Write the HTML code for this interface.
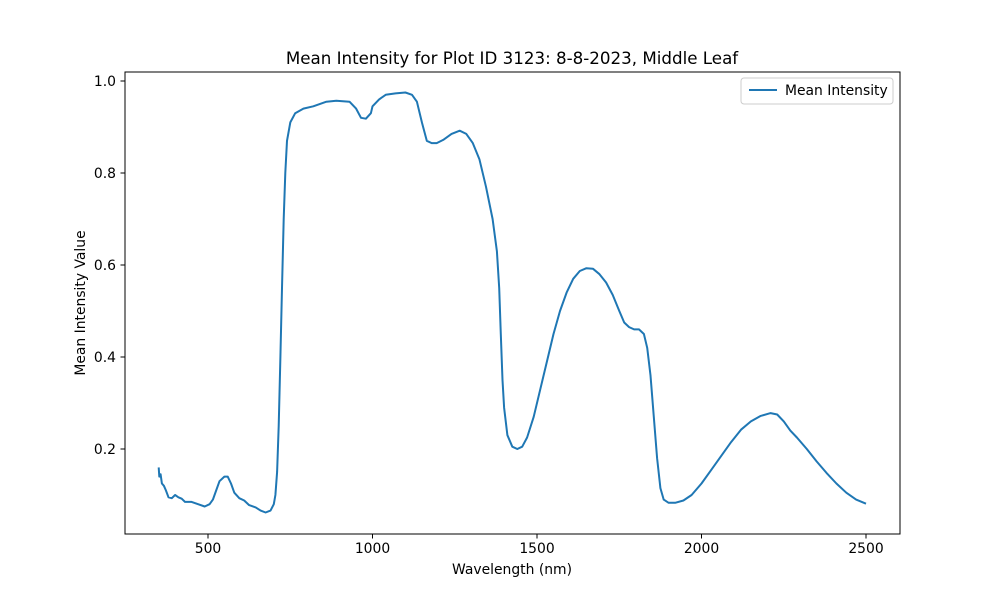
<!DOCTYPE html>
<html><head><meta charset="utf-8"><style>
body{margin:0;background:#fff}
svg{display:block;font-family:"DejaVu Sans","Liberation Sans",sans-serif}
</style></head><body>
<svg id="chart" width="1000" height="600">
<text x="512" y="64" text-anchor="middle" font-size="16.7">Mean Intensity for Plot ID 3123: 8-8-2023, Middle Leaf</text>
<g id="axes"></g>
<path id="line" fill="none" stroke="#1f77b4" stroke-width="2" stroke-linejoin="round"></path>
<rect x="125" y="72" width="775" height="462" fill="none" stroke="#000" stroke-width="1"/>
<g>
<rect x="741" y="78" width="152" height="26" rx="3" fill="#fff" stroke="#ccc"/>
<line x1="749" y1="90" x2="777" y2="90" stroke="#1f77b4" stroke-width="2"/>
<text x="785" y="95" font-size="13.9">Mean Intensity</text>
</g>
<text x="512" y="574" text-anchor="middle" font-size="13.9">Wavelength (nm)</text>
<text transform="translate(85,303) rotate(-90)" text-anchor="middle" font-size="13.9">Mean Intensity Value</text>
</svg>
<script>
const wavelengths=[350,352,356,360,366,372,380,390,400,410,420,430,450,470,490,505,515,525,535,550,560,570,580,595,610,625,645,660,675,690,700,705,710,715,720,725,730,735,740,750,765,790,820,860,890,930,950,965,980,995,1000,1020,1040,1070,1100,1120,1135,1150,1165,1180,1195,1215,1240,1265,1285,1305,1325,1345,1365,1378,1385,1390,1395,1400,1410,1425,1440,1455,1470,1490,1510,1530,1550,1570,1590,1610,1630,1650,1670,1690,1710,1730,1750,1765,1780,1795,1810,1825,1835,1845,1855,1865,1875,1885,1900,1920,1945,1970,2000,2030,2060,2090,2120,2150,2180,2210,2230,2250,2270,2290,2320,2350,2380,2410,2440,2470,2500];
const intensities=[0.16,0.14,0.145,0.125,0.12,0.11,0.095,0.093,0.1,0.095,0.092,0.085,0.085,0.08,0.075,0.08,0.09,0.11,0.13,0.14,0.14,0.125,0.105,0.093,0.088,0.078,0.073,0.066,0.062,0.066,0.08,0.1,0.15,0.25,0.4,0.55,0.7,0.8,0.87,0.91,0.93,0.94,0.945,0.955,0.957,0.955,0.94,0.92,0.918,0.93,0.945,0.96,0.97,0.973,0.975,0.97,0.955,0.91,0.87,0.865,0.865,0.872,0.885,0.892,0.885,0.865,0.83,0.77,0.7,0.63,0.55,0.45,0.35,0.29,0.23,0.205,0.2,0.205,0.225,0.27,0.33,0.39,0.45,0.5,0.54,0.57,0.587,0.593,0.592,0.58,0.562,0.535,0.5,0.475,0.465,0.46,0.46,0.45,0.42,0.36,0.27,0.18,0.115,0.09,0.083,0.083,0.088,0.1,0.125,0.155,0.185,0.215,0.242,0.26,0.272,0.278,0.275,0.26,0.24,0.225,0.2,0.173,0.148,0.125,0.105,0.09,0.081];
const xTicks=[500,1000,1500,2000,2500];
const yTicks=[0.2,0.4,0.6,0.8,1.0];
const X=v=>208+(v-500)*0.329;
const Y=v=>449-(v-0.2)*460;
const NS="http://www.w3.org/2000/svg";
const axes=document.getElementById('axes');
function mk(tag,attrs){const e=document.createElementNS(NS,tag);for(const k in attrs)e.setAttribute(k,attrs[k]);return e;}
xTicks.forEach(t=>{
  const l=mk('line',{x1:X(t),x2:X(t),y1:534,y2:538.5,stroke:'#000'});
  
  
  axes.appendChild(l);
  const tx=mk('text',{x:X(t),y:553,'text-anchor':'middle','font-size':'13.9'});
  
  
  tx.textContent=String(t);axes.appendChild(tx);
});
yTicks.forEach(t=>{
  const l=mk('line',{x1:120.5,x2:125,y1:Y(t),y2:Y(t),stroke:'#000'});
  
  
  axes.appendChild(l);
  const tx=mk('text',{x:116,y:Y(t)+5,'text-anchor':'end','font-size':'13.9'});
  
  
  tx.textContent=t.toFixed(1);axes.appendChild(tx);
});
document.getElementById('line').setAttribute('d',wavelengths.map((w,i)=>(i?'L':'M')+X(w).toFixed(1)+','+Y(intensities[i]).toFixed(1)).join(''));
</script>
</body></html>
